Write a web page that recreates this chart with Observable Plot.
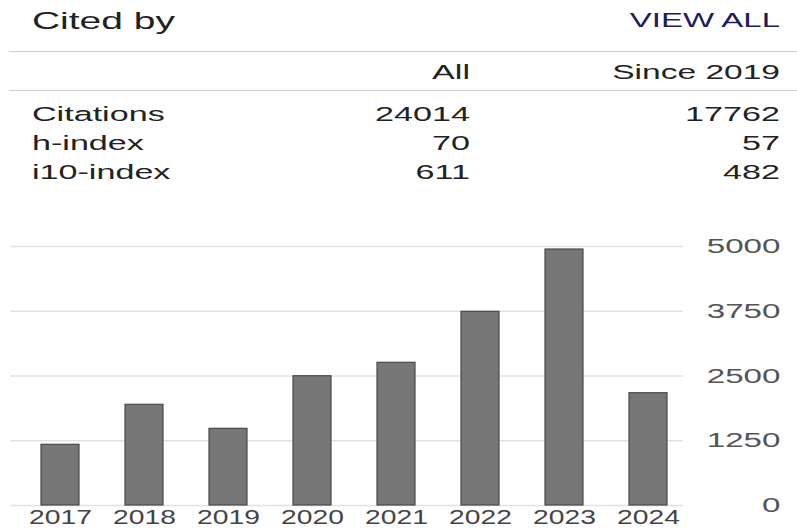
<!DOCTYPE html>
<html><head><meta charset="utf-8">
<script src="https://cdn.jsdelivr.net/npm/d3@7"></script>
<script src="https://cdn.jsdelivr.net/npm/@observablehq/plot@0.6"></script>
<style>
body{margin:0;background:#fff;font-family:"Liberation Sans",Arial,sans-serif;}
#wrap{width:797px;height:530px;overflow:hidden;}
svg{display:block;}
</style></head><body><div id="wrap"></div>
<script>
// ---- data ----
const title = "Cited by";
const linkText = "VIEW ALL";
const colHeads = ["All", "Since 2019"];
const statLabels = ["Citations", "h-index", "i10-index"];
const statAll = [24014, 70, 611];
const statSince = [17762, 57, 482];
const years = ["2017", "2018", "2019", "2020", "2021", "2022", "2023", "2024"];
const citations = [1172, 1944, 1480, 2496, 2755, 3739, 4942, 2168];
const yTicks = [0, 1250, 2500, 3750, 5000];

const wrap = document.getElementById("wrap");

// horizontally stretch a text element's glyphs about its anchor point (local coords)
function stretch(el, k) {
  const b = el.getBBox();
  const anchor = getComputedStyle(el).textAnchor;
  const ax = anchor === "end" ? b.x + b.width : anchor === "middle" ? b.x + b.width / 2 : b.x;
  const t = el.getAttribute("transform") || "";
  el.setAttribute("transform", `${t} translate(${ax},0) scale(${k},1) translate(${-ax},0)`);
}

// ---- header / stats table ----
const head = d3.select(wrap).append("svg")
  .attr("width", 797).attr("height", 230)
  .attr("font-family", "'Liberation Sans', Arial, sans-serif");

head.append("line").attr("x1", 9).attr("x2", 797).attr("y1", 51.5).attr("y2", 51.5)
  .attr("stroke", "#cfcfcf").attr("stroke-width", 1.2);
head.append("line").attr("x1", 9).attr("x2", 797).attr("y1", 90.5).attr("y2", 90.5)
  .attr("stroke", "#cfcfcf").attr("stroke-width", 1.2);

function txt(s, x, y, size, anchor, fill, k) {
  const t = head.append("text").attr("x", x).attr("y", y)
    .attr("font-size", size).attr("text-anchor", anchor).attr("fill", fill).text(s);
  stretch(t.node(), k);
}
txt(title, 32, 29.5, 24.5, "start", "#222", 1.59);
txt(linkText, 780, 27, 21, "end", "#1c1c5c", 1.57);
txt(colHeads[0], 470, 79, 19.5, "end", "#222", 1.75);
txt(colHeads[1], 780, 79, 19.5, "end", "#222", 1.72);
const rowY = [120.7, 150, 179.3];
statLabels.forEach((lab, i) => {
  txt(lab, 32, rowY[i], 19.5, "start", "#222", 1.75);
  txt(String(statAll[i]), 470, rowY[i], 19.5, "end", "#222", 1.75);
  txt(String(statSince[i]), 780, rowY[i], 19.5, "end", "#222", 1.75);
});

// ---- chart ----
const data = years.map((y, i) => ({year: y, value: citations[i]}));
const chart = Plot.plot({
  width: 797,
  height: 300,
  marginLeft: 17,
  marginRight: 107,
  marginTop: 16,
  marginBottom: 25,
  style: {fontFamily: "'Liberation Sans', Arial, sans-serif", background: "#fff", overflow: "visible"},
  x: {domain: years, paddingInner: 0.55, paddingOuter: 0.275, label: null},
  y: {domain: [0, 5000], label: null},
  marks: [
    Plot.ruleY(yTicks, {stroke: "#e2e2e2", strokeWidth: 1.5, insetLeft: -7, insetRight: 7}),
    Plot.barY(data, {x: "year", y: "value", fill: "#777", stroke: "#4a4a4a", strokeWidth: 1.2}),
    Plot.axisX({tickSize: 0, tickPadding: 5, fontSize: 19.5, fill: "#444"}),
    Plot.axisY({anchor: "right", ticks: yTicks, tickSize: 0, tickPadding: 0, textAnchor: "end", dx: 90, fontSize: 21, fill: "#555", tickFormat: d => String(d)})
  ]
});
wrap.appendChild(chart);
d3.select(chart).selectAll("g[aria-label='x-axis tick label'] text").each(function(){ stretch(this, 1.45); });
d3.select(chart).selectAll("g[aria-label='y-axis tick label'] text").each(function(){ stretch(this, 1.58); });
</script>
</body></html>
